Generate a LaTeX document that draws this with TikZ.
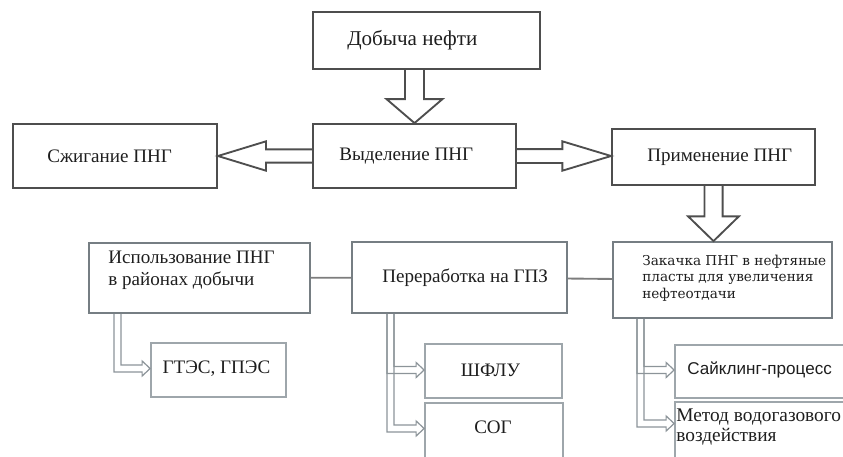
\documentclass[tikz,border=0pt]{standalone}
\usepackage{fontspec}
\setmainfont{Liberation Serif}
\newfontfamily\arialfont{Liberation Sans}
\newfontfamily\widefont{DejaVu Serif}
\usetikzlibrary{calc,fit}

\definecolor{boxdark}{RGB}{78,78,78}
\definecolor{boxmid}{RGB}{118,126,131}
\definecolor{boxlight}{RGB}{158,166,171}
\definecolor{linkgray}{RGB}{125,125,125}
\definecolor{branchgray}{RGB}{140,148,153}
\definecolor{textdark}{RGB}{30,30,30}

\tikzset{
	bigbox/.style={draw=boxdark, line width=1.4pt, inner sep=0pt},
	midbox/.style={draw=boxmid, line width=1.4pt, inner sep=0pt},
	lightbox/.style={draw=boxlight, line width=1.3pt, inner sep=0pt},
	txt/.style={inner sep=0pt, text=textdark, align=left, font=\fontsize{14.3}{16.5}\selectfont},
	arrowline/.style={draw=boxdark, line width=1.4pt},
	link/.style={draw=linkgray, line width=1.4pt},
	branchline/.style={draw=branchgray, line width=0.9pt}
}

% Blockpfeil: von, nach, halbe Schaftbreite, halbe Kopfbreite, Kopflaenge
\newcommand\bigarrow[5]{%
	\coordinate (h) at ($(#2)!#5!(#1)$);
	\draw[arrowline] ($(#1)!#3!90:(#2)$) -- ($(h)!#3!90:(#2)$) -- ($(h)!#4!90:(#2)$) -- (#2)
		-- ($(h)!#4!-90:(#2)$) -- ($(h)!#3!-90:(#2)$) -- ($(#1)!#3!-90:(#2)$);
}

% Hohler Winkelpfeil: [Hoehenversatz], von Kasten, Abstand vom linken Rand, zu Kasten
\newcommand\branch[4][0]{%
	\draw[branchline] ($(#2.south west)+(#3,0)$) |- ($(#4.west)+(-8,#1+3.5)$) -- ++(0,4)
		-- ($(#4.west)+(0,#1)$) -- ++(-8,-7.5) -- ++(0,4) -| ($(#2.south west)+(#3+7,0)$);
}

\begin{document}
\begin{tikzpicture}[x=0.75pt,y=-0.75pt]
	\useasboundingbox (0,0) rectangle (843,457);

	% obere Reihe
	\node[bigbox, fit={(313,12) (540,69)}] (dob) {};
	\node[bigbox, fit={(13,124) (217,188)}] (szh) {};
	\node[bigbox, fit={(313,124) (516,188)}] (vyd) {};
	\node[bigbox, fit={(612,129) (815,185)}] (prim) {};

	\node[txt, anchor=west, font=\fontsize{15.8}{18}\selectfont] (dob-t) at ($(dob.west)+(35,0)$) {Добыча нефти};
	\node[txt, anchor=west] (szh-t) at ($(szh.west)+(35,0)$) {Сжигание ПНГ};
	\node[txt, anchor=west] (vyd-t) at ($(vyd.west)+(27,0)$) {Выделение ПНГ};
	\node[txt, anchor=west] (prim-t) at ($(prim.west)+(36,0)$) {Применение ПНГ};

	% mittlere Reihe
	\node[midbox, fit={(89,243) (310,313)}] (isp) {};
	\node[midbox, fit={(352,242) (567,313)}] (per) {};
	\node[midbox, fit={(613,242) (832,318)}] (zak) {};

	\node[txt, anchor=west] (isp-t) at ($(isp.west)+(20,-8)$) {Использование ПНГ\\в районах добычи};
	\node[txt, anchor=west] (per-t) at ($(per.west)+(31,0)$) {Переработка на ГПЗ};
	\node[txt, anchor=west, font=\widefont\fontsize{10.2}{12.4}\selectfont] (zak-t) at ($(zak.west)+(30,-2)$) {Закачка ПНГ в нефтяные\\пласты для увеличения\\нефтеотдачи};

	% untere Reihe
	\node[lightbox, fit={(151,343) (286,397)}] (gtes) {};
	\node[lightbox, fit={(425,344) (562,398)}] (shflu) {};
	\node[lightbox, fit={(425,403) (563,462)}] (sog) {};
	\node[lightbox, fit={(675,345) (850,398)}] (sayk) {};
	\node[lightbox, fit={(675,402) (850,465)}] (metod) {};

	\node[txt] (gtes-t) at ($(gtes)+(-2,-1)$) {ГТЭС, ГПЭС};
	\node[txt] (shflu-t) at ($(shflu)+(-3,-1)$) {ШФЛУ};
	\node[txt] (sog-t) at ($(sog.north)+(-1,25)$) {СОГ};
	\node[txt, anchor=west, font=\arialfont\fontsize{12.8}{14}\selectfont] (sayk-t) at ($(sayk.west)+(13,-1.5)$) {Сайклинг-процесс};
	\node[txt, anchor=west, font=\fontsize{14.5}{15}\selectfont] (metod-t) at ($(metod.north west)+(2,26)$) {Метод водогазового\\воздействия};

	% Blockpfeile
	\bigarrow{vyd.north |- dob.south}{vyd.north}{7.1pt}{21pt}{18pt}
	\bigarrow{vyd.west}{szh.east}{5pt}{11pt}{36pt}
	\bigarrow{vyd.east}{vyd.east -| prim.west}{5.2pt}{11pt}{36.5pt}
	\bigarrow{prim.south}{prim.south |- zak.north}{6.8pt}{19pt}{18.5pt}

	% Verbindungen
	\draw[link] (isp) -- (per);
	\draw[link] (per) -- (zak);

	\branch[-1.5]{isp}{26}{gtes}
	\branch[-1]{per}{36}{shflu}
	\branch[-4]{per}{36}{sog}
	\branch[-1.5]{zak}{25}{sayk}
	\branch[-10]{zak}{25}{metod}
\end{tikzpicture}
\end{document}
